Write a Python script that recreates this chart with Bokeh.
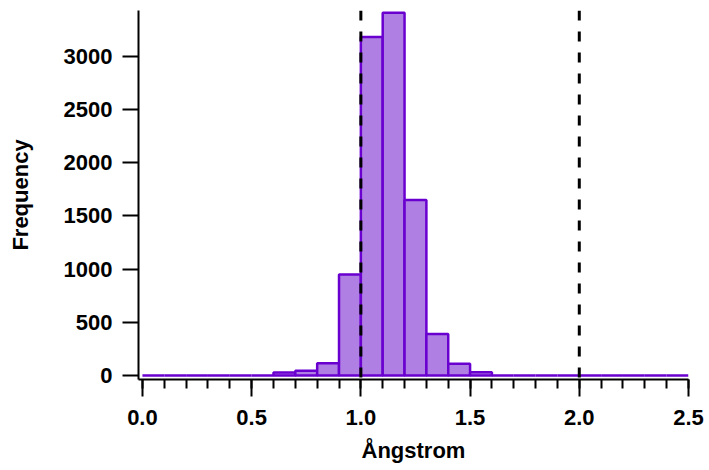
from bokeh.plotting import figure
from bokeh.models import Range1d, FixedTicker, PrintfTickFormatter, Span, ColumnDataSource
from bokeh.embed import file_html
from bokeh.resources import INLINE

# Histogram bins (Ångstrom), width 0.1 from 0.0 to 2.5
bin_left = [round(i * 0.1, 1) for i in range(25)]
bin_right = [round((i + 1) * 0.1, 1) for i in range(25)]
counts = [0, 0, 0, 0, 0, 0, 28, 44, 115, 950, 3180, 3410, 1650, 390, 110, 30,
          0, 0, 0, 0, 0, 0, 0, 0, 0]
ref_lines = [1.0, 2.0]
x_ticks = [0.0, 0.5, 1.0, 1.5, 2.0, 2.5]
y_ticks = [0, 500, 1000, 1500, 2000, 2500, 3000]

FONT = "Liberation Sans"
FS = "22px"

p = figure(width=709, height=470, output_backend="svg", toolbar_location=None,
           x_range=Range1d(-0.018, 2.5), y_range=Range1d(-38, 3430),
           min_border_left=138, min_border_right=21, min_border_top=10,
           min_border_bottom=91)
p.outline_line_color = None
p.xgrid.visible = False
p.ygrid.visible = False
p.background_fill_color = "white"
p.border_fill_color = "white"

src = ColumnDataSource(dict(left=bin_left, right=bin_right, top=counts,
                            bottom=[0] * len(counts)))
p.quad(left="left", right="right", top="top", bottom="bottom", source=src,
       fill_color="#b07fe3", line_color="#6a00d0", line_width=2.5)

for xv in ref_lines:
    p.add_layout(Span(location=xv, dimension="height", line_color="black",
                      line_width=3, line_dash="10 11"))

# X axis
xa = p.xaxis[0]
xa.ticker = FixedTicker(ticks=x_ticks, minor_ticks=[round(i * 0.1, 1) for i in range(26)])
xa.formatter = PrintfTickFormatter(format="%.1f")
xa.axis_label = "Ångstrom"
xa.axis_label_text_font = FONT
xa.axis_label_text_font_size = FS
xa.axis_label_text_font_style = "bold"
xa.axis_label_standoff = 10
xa.major_label_text_font = FONT
xa.major_label_text_font_size = FS
xa.major_label_text_font_style = "bold"
xa.major_label_standoff = 13
xa.major_tick_out = 17
xa.major_tick_in = 0
xa.minor_tick_out = 9
xa.minor_tick_in = 0
xa.axis_line_width = 2
xa.major_tick_line_width = 2
xa.minor_tick_line_width = 2
xa.axis_line_color = "black"
xa.major_tick_line_color = "black"
xa.minor_tick_line_color = "black"
xa.major_label_text_color = "black"
xa.axis_label_text_color = "black"

# Y axis
ya = p.yaxis[0]
ya.ticker = FixedTicker(ticks=y_ticks, minor_ticks=[])
ya.axis_label = "Frequency"
ya.axis_label_text_font = FONT
ya.axis_label_text_font_size = FS
ya.axis_label_text_font_style = "bold"
ya.axis_label_standoff = 28
ya.major_label_text_font = FONT
ya.major_label_text_font_size = FS
ya.major_label_text_font_style = "bold"
ya.major_label_standoff = 10
ya.major_tick_out = 16
ya.major_tick_in = 0
ya.minor_tick_out = 0
ya.minor_tick_in = 0
ya.axis_line_width = 2
ya.major_tick_line_width = 2
ya.axis_line_color = "black"
ya.major_tick_line_color = "black"
ya.major_label_text_color = "black"
ya.axis_label_text_color = "black"

open("out.html", "w").write(file_html(p, INLINE))
